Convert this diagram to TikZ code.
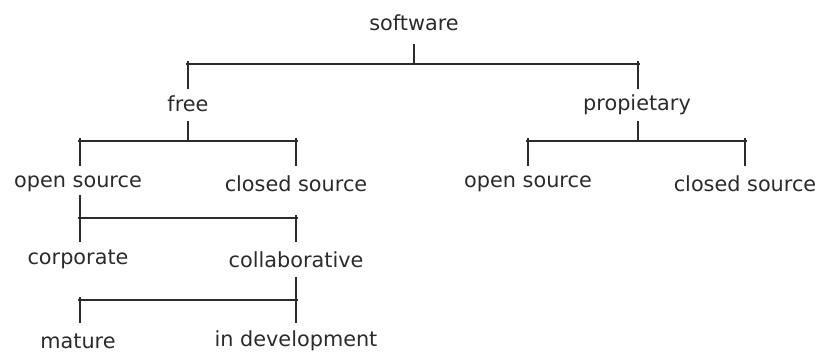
\documentclass[tikz,border=0pt]{standalone}
\usepackage{fontspec}
\setmainfont{DejaVu Sans}
\definecolor{ink}{HTML}{2B2B2B}
\begin{document}
\begin{tikzpicture}[x=1pt,y=-1pt,
  lbl/.style={inner sep=0pt,text=ink,font=\fontsize{20.8}{24}\selectfont},
  link/.style={draw=ink,line width=1.8pt,line cap=butt}]
\useasboundingbox (0,0) rectangle (821,352);
% labels
\node[lbl] (software) at (414,22.5) {software};
\node[lbl] (free) at (188,104) {free};
\node[lbl] (prop) at (637,105) {propietary};
\node[lbl] (fos) at (78,184) {open source};
\node[lbl] (fcs) at (296,184) {closed source};
\node[lbl] (pos) at (528,184) {open source};
\node[lbl] (pcs) at (745,184) {closed source};
\node[lbl] (corp) at (78,259) {corporate};
\node[lbl] (coll) at (296,260) {collaborative};
\node[lbl] (mat) at (78,341) {mature};
\node[lbl] (dev) at (296,341) {in development};
% junction coordinates
\coordinate (s0) at (414,44);  \coordinate (j0) at (414,64);
\coordinate (b0l) at (186,64); \coordinate (b0r) at (640,64);
\coordinate (d0l) at (188,61); \coordinate (e0l) at (188,89);
\coordinate (d0r) at (638,61); \coordinate (e0r) at (638,89);
% free
\coordinate (s1) at (188,121); \coordinate (j1) at (188,141);
\coordinate (b1l) at (78,141); \coordinate (b1r) at (298,141);
\coordinate (d1l) at (80,138); \coordinate (e1l) at (80,166);
\coordinate (d1r) at (296,138); \coordinate (e1r) at (296,166);
% propietary
\coordinate (s2) at (638,121); \coordinate (j2) at (638,141);
\coordinate (b2l) at (526,141); \coordinate (b2r) at (747,141);
\coordinate (d2l) at (528,138); \coordinate (e2l) at (528,166);
\coordinate (d2r) at (745,138); \coordinate (e2r) at (745,166);
% open source
\coordinate (s3) at (80,195); \coordinate (e3l) at (80,242);
\coordinate (b3l) at (78,218); \coordinate (b3r) at (298,218);
\coordinate (d3r) at (296,215); \coordinate (e3r) at (296,242);
% collaborative
\coordinate (s4) at (296,277); \coordinate (e4r) at (296,323);
\coordinate (b4l) at (78,300); \coordinate (b4r) at (298,300);
\coordinate (d4l) at (80,297); \coordinate (e4l) at (80,323);
% connectors
\draw[link] (s0) -- (j0);
\draw[link] (b0l) -- (b0r);
\draw[link] (d0l) -- (e0l);
\draw[link] (d0r) -- (e0r);
\draw[link] (s1) -- (j1);
\draw[link] (b1l) -- (b1r);
\draw[link] (d1l) -- (e1l);
\draw[link] (d1r) -- (e1r);
\draw[link] (s2) -- (j2);
\draw[link] (b2l) -- (b2r);
\draw[link] (d2l) -- (e2l);
\draw[link] (d2r) -- (e2r);
\draw[link] (s3) -- (e3l);
\draw[link] (b3l) -- (b3r);
\draw[link] (d3r) -- (e3r);
\draw[link] (s4) -- (e4r);
\draw[link] (b4l) -- (b4r);
\draw[link] (d4l) -- (e4l);
\end{tikzpicture}
\end{document}
